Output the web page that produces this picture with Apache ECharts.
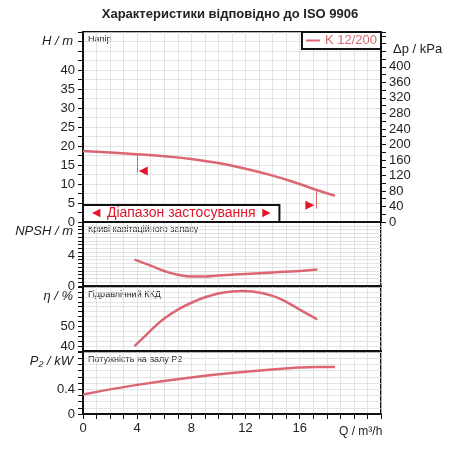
<!DOCTYPE html>
<html><head><meta charset="utf-8">
<script src="https://cdn.jsdelivr.net/npm/echarts@6/dist/echarts.min.js"></script>
<style>html,body{margin:0;padding:0;background:#fff}#c{width:460px;height:460px}</style>
</head><body><div id="c"></div>
<script>
const headQ = [0,2,4,6,8,10,12,14,16,17.2,18.6];
const headH = [18.7,18.3,17.8,17.3,16.6,15.5,14.0,12.2,10.0,8.5,6.9];
const npshQ = [3.8,5,6,7,8,9,10,12,14,16,17.3];
const npshV = [3.5,2.7,2.0,1.5,1.25,1.25,1.4,1.6,1.8,2.0,2.2];
const etaQ = [3.8,4.5,5,6,7,8,9,10,11,11.7,12.5,14,15,16,17.3];
const etaV = [40,44.5,48,54,58.5,62,64.8,66.7,67.7,68,67.7,65.5,62.5,58.5,53.5];
const p2Q = [0,4,8,12,16,17.3,18.6];
const p2V = [0.316,0.47,0.59,0.68,0.75,0.76,0.76];
const rangeQ = [4, 17.2];
const rangeTextQ = [0, 14.5];
const legendName = 'K 12/200';
const C = '#dc6672';
const zip = (a,b)=>a.map((x,i)=>[x,b[i]]);
const F='Liberation Sans';
const grids = [{top:32,height:190},{top:222,height:64},{top:287,height:64},{top:352,height:62}]
  .map(g=>Object.assign({left:83,right:79,show:true,borderColor:'#111',borderWidth:2,backgroundColor:'transparent'},g));
const gl = {show:true,lineStyle:{color:'#dcdcdc',width:0.8}};
const xAxes = grids.map((g,i)=>({type:'value',gridIndex:i,min:0,max:22,interval:1,
  axisLine:{show:true,lineStyle:{color:'#111',width:2}},
  axisTick:{show:i===3,length:5,lineStyle:{color:'#111'}},
  axisLabel:{show:i===3,color:'#222',fontSize:13,fontFamily:F,formatter:v=>(v%4===0&&v<=16)?String(v):''},
  splitLine:{show:true,lineStyle:{color:'#dcdcdc',width:0.8}},
  name:i===3?'Q / m³/h':'',nameLocation:'end',nameGap:-42,
  nameTextStyle:{color:'#222',fontSize:12,fontFamily:F,padding:[12,0,0,0],verticalAlign:'top'}}));
function yax(i,min,max,interval,labels,name){
  return {type:'value',gridIndex:i,min,max,interval,
    axisLine:{show:true,lineStyle:{color:'#111',width:2}},
    axisTick:{show:true,length:5,lineStyle:{color:'#111'}},
    axisLabel:{color:'#222',fontSize:13,fontFamily:F,formatter:v=>labels.includes(+(+v).toFixed(3))?String(v):''},
    splitLine:gl,name:name,nameLocation:'end',nameGap:-16,
    nameTextStyle:{color:'#222',fontSize:13,fontFamily:F,fontStyle:'italic',align:'right',padding:[0,10,0,0]}};
}
const yAxes=[
  yax(0,0,50,2.5,[0,5,10,15,20,25,30,35,40],'H / m'),
  yax(1,0,8.5,0.5,[0,4],'NPSH / m'),
  yax(2,37.5,70,2.5,[40,50],'η / %'),
  yax(3,0,1,0.1,[0,0.4],'P₂ / kW'),
  {type:'value',gridIndex:0,position:'right',min:0,max:490,interval:20,
   axisLine:{show:true,lineStyle:{color:'#111',width:2}},axisTick:{show:true,length:5,lineStyle:{color:'#111'}},
   axisLabel:{color:'#222',fontSize:13,fontFamily:F,formatter:v=>(v%40===0&&v<=400)?String(v):''},
   splitLine:{show:false},name:'Δp / kPa',nameLocation:'end',nameGap:-24,
   nameTextStyle:{color:'#222',fontSize:13,fontFamily:F,align:'left',padding:[0,0,0,12]}}
];
const ls={color:C,width:2.5};
const tri=(q,h,rot)=>({coord:[q,h],symbol:'triangle',symbolSize:[9,9],symbolRotate:rot,itemStyle:{color:'#e0162b'},label:{show:false}});
const series=[
 {name:legendName,type:'line',xAxisIndex:0,yAxisIndex:0,data:zip(headQ,headH),smooth:true,showSymbol:false,lineStyle:ls,itemStyle:{color:C},
  markLine:{silent:true,symbol:'none',label:{show:false},lineStyle:{color:C,width:1,type:'solid'},
   data:[[{coord:[rangeQ[0],17.8]},{coord:[rangeQ[0],13]}],[{coord:[rangeQ[1],8.5]},{coord:[rangeQ[1],3.5]}]]},
  markPoint:{silent:true,data:[tri(rangeQ[0]+0.45,13.4,90),tri(rangeQ[1]-0.45,4.4,-90)]},
  markArea:{silent:true,itemStyle:{color:'#fff',borderColor:'#111',borderWidth:2},
   label:{show:true,position:'inside',color:'#e0162b',fontSize:14,fontFamily:F,formatter:'◄ Діапазон застосування ►'},
   data:[[{coord:[rangeTextQ[0],0]},{coord:[rangeTextQ[1],4.5]}]]}},
 {type:'line',xAxisIndex:1,yAxisIndex:1,data:zip(npshQ,npshV),smooth:true,showSymbol:false,lineStyle:ls},
 {type:'line',xAxisIndex:2,yAxisIndex:2,data:zip(etaQ,etaV),smooth:0.4,showSymbol:false,lineStyle:ls},
 {type:'line',xAxisIndex:3,yAxisIndex:3,data:zip(p2Q,p2V),smooth:true,showSymbol:false,lineStyle:ls}
];
const titles=['Напір','Криві кавітаційного запасу','Гідравлічний ККД','Потужність на валу P2'];
const graphic=titles.map((t,i)=>({type:'text',left:88,top:grids[i].top+3,style:{text:t,fontSize:9,fill:'#222',fontFamily:F}}));
const chart=echarts.init(document.getElementById('c'));
chart.setOption({animation:false,
 title:{text:'Характеристики відповідно до ISO 9906',left:'center',top:3,textStyle:{fontSize:13,fontWeight:'bold',color:'#222',fontFamily:F}},
 legend:{data:[legendName],right:79,top:32,itemWidth:14,itemHeight:2,icon:'rect',borderColor:'#111',borderWidth:2,padding:[2,4],
  textStyle:{color:C,fontSize:13,fontFamily:F},backgroundColor:'#fff'},
 grid:grids,xAxis:xAxes,yAxis:yAxes,series,graphic});
</script></body></html>
